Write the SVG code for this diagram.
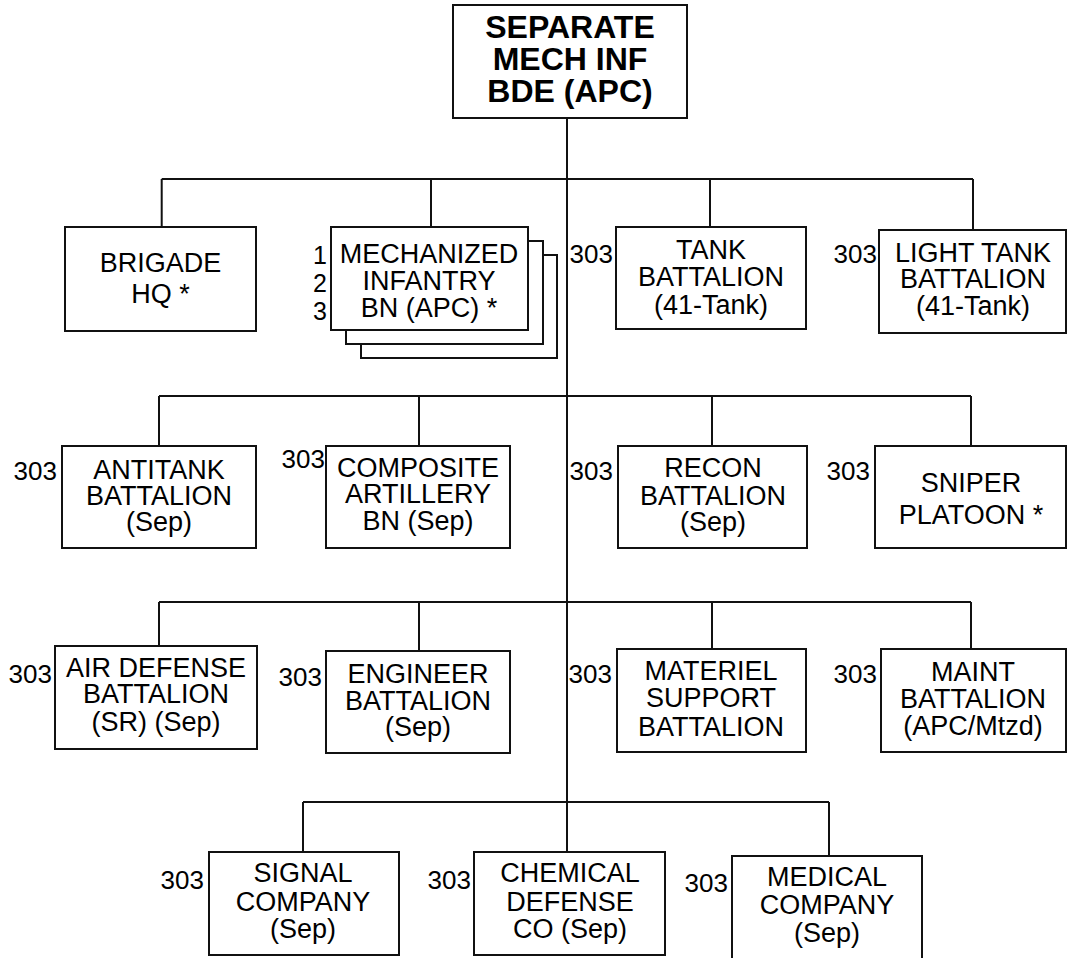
<svg xmlns="http://www.w3.org/2000/svg" width="1068" height="958" viewBox="0 0 1068 958">
<style>
.box{fill:#fff;stroke:#111;stroke-width:2}
.ln{fill:none;stroke:#111;stroke-width:2}
text{font-family:"Liberation Sans",Arial,sans-serif;fill:#000}
.t{font-size:27px;text-anchor:middle}
.b{font-size:32px;font-weight:bold;text-anchor:middle}
.n{font-size:26px;text-anchor:end}
.s{font-size:25px;text-anchor:end}
</style>
<rect width="1068" height="958" fill="#fff"/>
<g id="connectors">
<path class="ln" d="M567 118V852"/>
<path class="ln" d="M161.7 179H973M161.7 179V227M431 179V227M710 179V227M973 179V230"/>
<path class="ln" d="M159 396H971M159 396V446M419 396V446M712 396V446M971 396V446"/>
<path class="ln" d="M159 602H971M159 602V646M419 602V651M712 602V649M971 602V649"/>
<path class="ln" d="M303 802H829M303 802V852M829 802V856"/>
</g>
<g id="bde">
<rect class="box" x="453" y="5" width="234" height="113"/>
<text class="b" x="570" y="38">SEPARATE</text>
<text class="b" x="570" y="70">MECH INF</text>
<text class="b" x="570" y="102">BDE (APC)</text>
</g>
<g id="hq">
<rect class="box" x="65" y="227" width="191" height="104"/>
<text class="t" x="160.5" y="272">BRIGADE</text>
<text class="t" x="160.5" y="303">HQ *</text>
</g>
<g id="mechinf">
<rect class="box" x="361" y="255" width="196" height="103"/>
<rect class="box" x="346" y="241" width="197" height="103"/>
<rect class="box" x="331" y="227" width="197" height="103"/>
<text class="t" x="429" y="263">MECHANIZED</text>
<text class="t" x="429" y="290">INFANTRY</text>
<text class="t" x="429" y="317">BN (APC) *</text>
<text class="s" x="327" y="264">1</text>
<text class="s" x="327" y="292">2</text>
<text class="s" x="327" y="320">3</text>
</g>
<g id="tank">
<rect class="box" x="616" y="227" width="190" height="102"/>
<text class="t" x="711" y="259">TANK</text>
<text class="t" x="711" y="286">BATTALION</text>
<text class="t" x="711" y="314">(41-Tank)</text>
<text class="n" x="613" y="263">303</text>
</g>
<g id="lighttank">
<rect class="box" x="879" y="230" width="187" height="103"/>
<text class="t" x="973" y="262">LIGHT TANK</text>
<text class="t" x="973" y="288">BATTALION</text>
<text class="t" x="973" y="315">(41-Tank)</text>
<text class="n" x="877" y="263">303</text>
</g>
<g id="antitank">
<rect class="box" x="62" y="446" width="194" height="102"/>
<text class="t" x="159" y="479">ANTITANK</text>
<text class="t" x="159" y="505">BATTALION</text>
<text class="t" x="159" y="531">(Sep)</text>
<text class="n" x="57" y="480">303</text>
</g>
<g id="artillery">
<rect class="box" x="326" y="446" width="184" height="102"/>
<text class="t" x="418" y="477">COMPOSITE</text>
<text class="t" x="418" y="503">ARTILLERY</text>
<text class="t" x="418" y="530">BN (Sep)</text>
<text class="n" x="325" y="468">303</text>
</g>
<g id="recon">
<rect class="box" x="618" y="446" width="189" height="102"/>
<text class="t" x="713" y="477">RECON</text>
<text class="t" x="713" y="505">BATTALION</text>
<text class="t" x="713" y="531">(Sep)</text>
<text class="n" x="613" y="480">303</text>
</g>
<g id="sniper">
<rect class="box" x="875" y="446" width="191" height="102"/>
<text class="t" x="971" y="492">SNIPER</text>
<text class="t" x="971" y="524">PLATOON *</text>
<text class="n" x="870" y="480">303</text>
</g>
<g id="airdefense">
<rect class="box" x="55" y="646" width="202" height="103"/>
<text class="t" x="156" y="677">AIR DEFENSE</text>
<text class="t" x="156" y="703">BATTALION</text>
<text class="t" x="156" y="731">(SR) (Sep)</text>
<text class="n" x="52" y="683">303</text>
</g>
<g id="engineer">
<rect class="box" x="326" y="651" width="184" height="102"/>
<text class="t" x="418" y="683">ENGINEER</text>
<text class="t" x="418" y="710">BATTALION</text>
<text class="t" x="418" y="736">(Sep)</text>
<text class="n" x="322" y="686">303</text>
</g>
<g id="materiel">
<rect class="box" x="617" y="649" width="189" height="103"/>
<text class="t" x="711" y="680">MATERIEL</text>
<text class="t" x="711" y="707">SUPPORT</text>
<text class="t" x="711" y="736">BATTALION</text>
<text class="n" x="612" y="683">303</text>
</g>
<g id="maint">
<rect class="box" x="881" y="649" width="185" height="103"/>
<text class="t" x="973" y="681">MAINT</text>
<text class="t" x="973" y="708">BATTALION</text>
<text class="t" x="973" y="735">(APC/Mtzd)</text>
<text class="n" x="877" y="683">303</text>
</g>
<g id="signal">
<rect class="box" x="209" y="852" width="190" height="103"/>
<text class="t" x="303" y="882">SIGNAL</text>
<text class="t" x="303" y="911">COMPANY</text>
<text class="t" x="303" y="938">(Sep)</text>
<text class="n" x="204" y="889">303</text>
</g>
<g id="chemical">
<rect class="box" x="474" y="852" width="191" height="103"/>
<text class="t" x="570" y="882">CHEMICAL</text>
<text class="t" x="570" y="911">DEFENSE</text>
<text class="t" x="570" y="938">CO (Sep)</text>
<text class="n" x="471" y="889">303</text>
</g>
<g id="medical">
<rect class="box" x="732" y="856" width="190" height="104"/>
<text class="t" x="827" y="886">MEDICAL</text>
<text class="t" x="827" y="914">COMPANY</text>
<text class="t" x="827" y="942">(Sep)</text>
<text class="n" x="728" y="892">303</text>
</g>
</svg>
